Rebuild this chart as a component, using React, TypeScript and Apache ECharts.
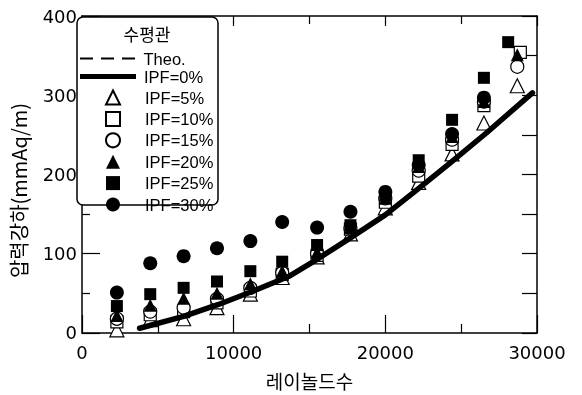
import React, { useEffect, useRef } from "react";
import * as echarts from "echarts";

// Reynolds numbers of the measurement columns
const reCols = [2300, 4500, 6700, 8900, 11100, 13200, 15500, 17700, 20000, 22200, 24400, 26500, 28700];
const reIpf10 = [2300, 4500, 6700, 8900, 11100, 13200, 15500, 17700, 20000, 22200, 24400, 26500, 28900];
const reIpf25 = [2300, 4500, 6700, 8900, 11100, 13200, 15500, 17700, 20000, 22200, 24400, 26500, 28100];
const reIpf30 = [2300, 4500, 6700, 8900, 11100, 13200, 15500, 17700, 20000, 22200, 24400, 26500];

const ipf5 = [4, 17, 18, 32, 49, 70, 96, 125, 158, 190, 226, 265, 312];
const ipf10 = [14, 23, 27, 38, 53, 74, 98, 131, 165, 198, 238, 287, 354];
const ipf15 = [18, 27, 32, 43, 57, 76, 100, 132, 170, 205, 244, 292, 336];
const ipf20 = [22, 35, 44, 50, 62, 78, 102, 133, 170, 210, 248, 292, 351];
const ipf25 = [34, 49, 57, 65, 78, 90, 111, 136, 174, 218, 269, 322, 367];
const ipf30 = [51, 88, 97, 107, 116, 140, 133, 153, 178, 212, 251, 297];

// IPF=0% curve and theoretical curve (hidden beneath it)
const reLine = [3800, 6700, 9000, 11300, 13700, 15500, 17700, 20000, 22100, 24300, 26700, 29700];
const ipf0 = [6, 21, 36, 53, 72, 93, 120, 149, 181, 215, 253, 303];
const theo = [6, 21, 36, 53, 72, 93, 120, 149, 181, 215, 253, 303];

const xTicks = [0, 10000, 20000, 30000];
const yTicks = [0, 100, 200, 300, 400];

const legendTitle = "수평관";
const xName = "레이놀드수";
const yName = "압력강하(mmAq/m)";

const zip = (xs: number[], ys: number[]) => ys.map((y, i) => [xs[i], y]);

export default function App() {
  const ref = useRef<HTMLDivElement>(null);
  useEffect(() => {
    if (!ref.current) return;
    const chart = echarts.init(ref.current, null, { renderer: "svg" });
    const num = "DejaVu Sans";
    const leg = "Liberation Sans";
    const kr = "Noto Sans CJK KR";
    const black = "#000";
    const open = (name: string, symbol: string, size: number, xs: number[], ys: number[]) => ({
      name,
      type: "scatter",
      symbol,
      symbolSize: size,
      color: black,
      itemStyle: { color: "#fff", borderColor: black, borderWidth: 1.2, opacity: 1 },
      data: zip(xs, ys),
      z: 2,
    });
    const filled = (name: string, symbol: string, size: number, xs: number[], ys: number[]) => ({
      name,
      type: "scatter",
      symbol,
      symbolSize: size,
      color: black,
      itemStyle: { color: black, opacity: 1 },
      data: zip(xs, ys),
      z: 2,
    });
    const fmt = (v: number) => String(v);
    const line = { onZero: false, lineStyle: { color: black, width: 1.5 } };
    chart.setOption({
      animation: false,
      grid: { left: 77, top: 16, right: 45, bottom: 61 },
      xAxis: [
        {
          type: "value",
          position: "bottom",
          min: xTicks[0],
          max: xTicks[xTicks.length - 1],
          interval: 10000,
          axisLine: line,
          axisTick: { inside: true, length: 18, lineStyle: { color: black, width: 1.2 } },
          minorTick: { show: true, splitNumber: 2, length: 9, lineStyle: { color: black, width: 1.2 } },
          axisLabel: { color: black, fontFamily: num, fontSize: 18, margin: 11, formatter: fmt },
          splitLine: { show: false },
          name: xName,
          nameLocation: "middle",
          nameGap: 38,
          nameTextStyle: { color: black, fontFamily: kr, fontSize: 19 },
        },
        {
          type: "value",
          position: "top",
          min: xTicks[0],
          max: xTicks[xTicks.length - 1],
          interval: 10000,
          axisLine: line,
          axisTick: { inside: true, length: 10, lineStyle: { color: black, width: 1.2 } },
          minorTick: { show: true, splitNumber: 2, length: 8, lineStyle: { color: black, width: 1.2 } },
          axisLabel: { show: false },
          splitLine: { show: false },
        },
      ],
      yAxis: [
        {
          type: "value",
          position: "left",
          min: yTicks[0],
          max: yTicks[yTicks.length - 1],
          interval: 100,
          axisLine: line,
          axisTick: { inside: true, length: 18, lineStyle: { color: black, width: 1.2 } },
          minorTick: { show: true, splitNumber: 2, length: 8, lineStyle: { color: black, width: 1.2 } },
          axisLabel: { color: black, fontFamily: num, fontSize: 18, margin: 5, formatter: fmt },
          splitLine: { show: false },
          name: yName,
          nameLocation: "middle",
          nameGap: 54,
          nameTextStyle: { color: black, fontFamily: kr, fontSize: 20, padding: [0, 32, 0, 0] },
        },
        {
          type: "value",
          position: "right",
          min: 0,
          max: 400,
          interval: 50,
          axisLine: line,
          axisTick: { inside: true, length: 15, lineStyle: { color: black, width: 1.2 } },
          axisLabel: { show: false },
          splitLine: { show: false },
        },
      ],
      legend: [
        {
          data: [{ name: "Theo.", icon: "path://M0,0H13V2H0ZM21,0H34V2H21ZM42,0H55V2H42Z" }],
          orient: "vertical",
          left: 80,
          top: 50,
          padding: 0,
          itemWidth: 56,
          itemHeight: 2,
          selectedMode: false,
          textStyle: { color: black, fontFamily: leg, fontSize: 16.5, padding: [0, 0, 0, 3] },
          z: 6,
        },
        {
          data: [{ name: "IPF=0%", icon: "rect" }],
          orient: "vertical",
          left: 80,
          top: 68,
          padding: 0,
          itemWidth: 56,
          itemHeight: 5,
          selectedMode: false,
          textStyle: { color: black, fontFamily: leg, fontSize: 16.5, padding: [0, 0, 0, 3] },
          z: 6,
        },
        {
          data: ["IPF=5%", "IPF=10%", "IPF=15%", "IPF=20%", "IPF=25%", "IPF=30%"],
          orient: "vertical",
          left: 105,
          top: 89,
          padding: 0,
          itemWidth: 14,
          itemHeight: 14,
          itemGap: 4.4,
          selectedMode: false,
          textStyle: { color: black, fontFamily: leg, fontSize: 16.5, padding: [0, 0, 0, 20] },
          z: 6,
        },
      ],
      graphic: [
        {
          type: "rect",
          shape: { x: 77, y: 17, width: 141, height: 188, r: 6 },
          style: { fill: "#fff", stroke: black, lineWidth: 1.5 },
          z: 5,
        },
        {
          type: "text",
          x: 147,
          y: 33,
          style: {
            text: legendTitle,
            fontFamily: kr,
            fontSize: 17,
            fill: black,
            align: "center",
            verticalAlign: "middle",
          },
          z: 6,
        },
      ],
      series: [
        {
          name: "Theo.",
          type: "line",
          color: black,
          symbol: "none",
          lineStyle: { color: black, width: 1.5, type: "dashed" },
          data: zip(reLine, theo),
          z: 3,
        },
        open("IPF=5%", "triangle", 14, reCols, ipf5),
        open("IPF=10%", "rect", 12, reIpf10, ipf10),
        open("IPF=15%", "circle", 13, reCols, ipf15),
        filled("IPF=20%", "triangle", 13, reCols, ipf20),
        filled("IPF=25%", "rect", 12, reIpf25, ipf25),
        filled("IPF=30%", "circle", 14, reIpf30, ipf30),
        {
          name: "IPF=0%",
          type: "line",
          color: black,
          symbol: "none",
          lineStyle: { color: black, width: 5.5, cap: "round", join: "round" },
          data: zip(reLine, ipf0),
          z: 4,
        },
      ],
    });
    return () => chart.dispose();
  }, []);
  return (
    <div
      ref={ref}
      style={{ position: "fixed", left: 0, top: 0, width: 582, height: 395 }}
    />
  );
}
